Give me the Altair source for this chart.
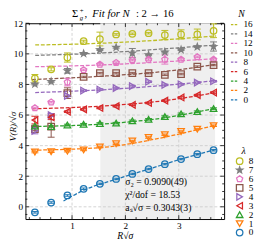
import altair as alt
import pandas as pd

# ---------------- data ----------------
R_SQRT_SIGMA = [0.304, 0.609, 0.913, 1.217, 1.522, 1.826, 2.130, 2.434, 2.739, 3.043, 3.347, 3.652]

LAM_ORDER = ["8", "7", "6", "5", "4", "3", "2", "1", "0"]
V = {
    "8": [8.40, 8.99, 9.76, 10.83, 10.97, 11.27, 11.31, 11.35, 11.23, 11.27, 11.27, 11.51],
    "7": [8.02, 8.19, 8.89, 10.02, 10.27, 10.42, 10.05, 9.93, 10.12, 10.27, 10.46, 10.48],
    "6": [6.46, 6.84, 8.15, 8.95, 9.31, 9.42, 9.59, 9.63, 9.63, 9.63, 9.80, 9.63],
    "5": [5.08, 5.25, 7.43, 8.49, 8.74, 8.74, 8.74, 8.74, 8.63, 8.68, 9.16, 9.27],
    "4": [4.97, 6.00, 7.25, 7.60, 7.67, 7.76, 7.89, 8.18, 7.97, 8.01, 8.12, 8.21],
    "3": [5.67, 5.85, 6.22, 6.37, 6.46, 6.58, 6.67, 6.79, 6.94, 7.15, 7.30, 7.47],
    "2": [5.28, 5.25, 5.35, 5.40, 5.45, 5.47, 5.62, 5.72, 5.90, 6.08, 6.22, 6.42],
    "1": [3.58, 3.60, 3.64, 3.72, 3.91, 4.12, 4.30, 4.53, 4.71, 4.92, 5.08, 5.30],
    "0": [-0.36, 0.28, 0.74, 1.18, 1.50, 1.82, 2.15, 2.47, 2.79, 3.12, 3.44, 3.70],
}
ERR = {
    "8": [0.25, 0.10, 0.30, 0.06, 0.45, 0.05, 0.05, 0.05, 0.30, 0.30, 0.35, 0.45],
    "7": [0.05, 0.05, 0.15, 0.05, 0.05, 0.05, 0.30, 0.05, 0.05, 0.05, 0.05, 0.30],
    "6": [0.05, 0.05, 0.25, 0.05, 0.05, 0.05, 0.05, 0.05, 0.30, 0.05, 0.05, 0.05],
    "5": [0.10, 0.70, 0.35, 0.05, 0.05, 0.05, 0.05, 0.05, 0.05, 0.05, 0.05, 0.05],
    "4": [0.20, 0.10, 0.05, 0.05, 0.05, 0.05, 0.05, 0.05, 0.05, 0.05, 0.05, 0.05],
    "3": [0.25, 0.15, 0.05, 0.05, 0.05, 0.05, 0.05, 0.05, 0.05, 0.05, 0.05, 0.05],
    "2": [0.05, 0.05, 0.05, 0.05, 0.05, 0.05, 0.05, 0.05, 0.05, 0.05, 0.05, 0.05],
    "1": [0.05, 0.05, 0.05, 0.05, 0.05, 0.05, 0.05, 0.05, 0.05, 0.05, 0.05, 0.05],
    "0": [0.05, 0.05, 0.05, 0.05, 0.05, 0.05, 0.05, 0.05, 0.05, 0.05, 0.05, 0.05],
}

N_ORDER = ["16", "14", "12", "10", "8", "6", "4", "2", "0"]
FIT_X = {
    "16": [0.31, 1.52, 2.73, 3.70],
    "14": [0.31, 1.52, 2.73, 3.70],
    "12": [0.31, 1.52, 2.73, 3.70],
    "10": [0.25, 1.52, 2.73, 3.70],
    "8":  [0.31, 1.52, 2.73, 3.70],
    "6":  [0.25, 1.52, 2.73, 3.70],
    "4":  [0.25, 1.52, 2.73, 3.70],
    "2":  [0.25, 1.52, 2.73, 3.70],
    "0":  [0.84, 1.217, 1.826, 2.434, 3.043, 3.70],
}
FIT_V = {
    "16": [10.58, 10.69, 10.92, 11.17],
    "14": [9.90, 10.05, 10.33, 10.58],
    "12": [9.16, 9.27, 9.48, 9.69],
    "10": [8.32, 8.53, 8.85, 9.31],
    "8":  [7.47, 7.64, 7.94, 8.25],
    "6":  [6.41, 6.58, 6.94, 7.47],
    "4":  [5.25, 5.40, 5.82, 6.45],
    "2":  [3.70, 3.87, 4.55, 5.35],
    "0":  [0.38, 1.08, 1.80, 2.46, 3.12, 3.76],
}

FIT_RANGE = [1.53, 3.68]
X_MAJOR = [1, 2, 3]
X_MINOR = [0.2, 0.4, 0.6, 0.8, 1.2, 1.4, 1.6, 1.8, 2.2, 2.4, 2.6, 2.8, 3.2, 3.4, 3.6, 3.8]
Y_MAJOR = [0, 2, 4, 6, 8, 10, 12]
Y_MINOR = [-0.5, 0.5, 1, 1.5, 2.5, 3, 3.5, 4.5, 5, 5.5, 6.5, 7, 7.5, 8.5, 9, 9.5, 10.5, 11, 11.5]

# ---------------- styles ----------------
COL_LAM = {"8": "#bcbd22", "7": "#7f7f7f", "6": "#e377c2", "5": "#8c564b", "4": "#9467bd",
           "3": "#d62728", "2": "#2ca02c", "1": "#ff7f0e", "0": "#1f77b4"}
COL_N = {"16": "#bcbd22", "14": "#7f7f7f", "12": "#e377c2", "10": "#8c564b", "8": "#9467bd",
         "6": "#d62728", "4": "#2ca02c", "2": "#ff7f0e", "0": "#1f77b4"}
STAR = ("M0,-1L0.235,-0.324L0.951,-0.309L0.380,0.124L0.588,0.809L0,0.4L-0.588,0.809"
        "L-0.380,0.124L-0.951,-0.309L-0.235,-0.324Z")
PENT = "M0,-1L0.951,-0.309L0.588,0.809L-0.588,0.809L-0.951,-0.309Z"
SHAPE_LAM = {"8": "circle", "7": STAR, "6": PENT, "5": "square", "4": "triangle-right",
             "3": "triangle-left", "2": "triangle-up", "1": "triangle-down", "0": "circle"}
FILL_LAM = {l: "transparent" for l in LAM_ORDER}
FILL_LAM["7"] = "#7f7f7f"

FONT = "Liberation Serif"
W, H = 205, 202
XDOM = [0.127, 3.85]
YDOM = [-0.8, 12]
CAP = 0.065
MSIZE = 45

rows = []
for lam in LAM_ORDER:
    for x, v, e in zip(R_SQRT_SIGMA, V[lam], ERR[lam]):
        rows.append({"lam": lam, "x": x, "v": v, "lo": v - e, "hi": v + e, "col": COL_LAM[lam]})
pts = pd.DataFrame(rows)

lrows = []
for n in N_ORDER:
    for i, (x, v) in enumerate(zip(FIT_X[n], FIT_V[n])):
        lrows.append({"N": n, "x": x, "v": v, "i": i})
lines = pd.DataFrame(lrows)

xs = alt.Scale(domain=XDOM, nice=False, zero=False)
ys = alt.Scale(domain=YDOM, nice=False, zero=False)
xaxis = alt.Axis(values=X_MAJOR, ticks=False, tickSize=0, domain=False, grid=False,
                 labelFont=FONT, labelFontSize=9.5, labelPadding=2, labelColor="black",
                 title="R√σ", titleFont=FONT, titleFontSize=10, titleFontStyle="italic",
                 titleFontWeight="normal", titlePadding=1, titleColor="black")
yaxis = alt.Axis(values=Y_MAJOR, ticks=False, tickSize=0, domain=False, grid=False,
                 labelFont=FONT, labelFontSize=9.5, labelPadding=3, labelColor="black",
                 title="V(R)/√σ", titleFont=FONT, titleFontSize=9.5, titleFontStyle="italic",
                 titleFontWeight="normal", titleColor="black", titleX=-13, titleY=106,
                 titleAngle=270, titleAlign="center", titleBaseline="middle")
X = alt.X("x:Q", scale=xs, axis=xaxis)
Y = alt.Y("v:Q", scale=ys, axis=yaxis)

band = alt.Chart(pd.DataFrame({"a": [FIT_RANGE[0]], "b": [FIT_RANGE[1]]})).mark_rect(
    color="#efefef").encode(x=alt.X("a:Q", scale=xs, axis=xaxis), x2="b:Q",
                            y=alt.value(0), y2=alt.value(H))

gx = alt.Chart(pd.DataFrame({"x": X_MAJOR})).mark_rule(
    color="#c8c8c8", strokeDash=[3, 2], strokeWidth=0.8).encode(x=X, y=alt.value(0), y2=alt.value(H))
gy = alt.Chart(pd.DataFrame({"v": Y_MAJOR[:-1]})).mark_rule(
    color="#c8c8c8", strokeDash=[3, 2], strokeWidth=0.8).encode(y=Y, x=alt.value(0), x2=alt.value(W))

fit = alt.Chart(lines).mark_line(strokeDash=[4, 1.8], strokeWidth=1.3, interpolate="monotone").encode(
    x=X, y=Y, order="i:O",
    stroke=alt.Stroke("N:N", scale=alt.Scale(domain=N_ORDER, range=[COL_N[n] for n in N_ORDER]),
                      legend=None))

ebar = alt.Chart(pts).mark_rule(strokeWidth=1).encode(
    x=X, y=alt.Y("lo:Q", scale=ys, axis=yaxis), y2="hi:Q",
    stroke=alt.Stroke("col:N", scale=None))
cap_lo = alt.Chart(pts).transform_calculate(xa=f"datum.x - {CAP}", xb=f"datum.x + {CAP}").mark_rule(
    strokeWidth=1).encode(x=alt.X("xa:Q", scale=xs, axis=xaxis), x2="xb:Q",
                          y=alt.Y("lo:Q", scale=ys, axis=yaxis), stroke=alt.Stroke("col:N", scale=None))
cap_hi = alt.Chart(pts).transform_calculate(xa=f"datum.x - {CAP}", xb=f"datum.x + {CAP}").mark_rule(
    strokeWidth=1).encode(x=alt.X("xa:Q", scale=xs, axis=xaxis), x2="xb:Q",
                          y=alt.Y("hi:Q", scale=ys, axis=yaxis), stroke=alt.Stroke("col:N", scale=None))

points = alt.Chart(pts).mark_point(size=MSIZE, strokeWidth=1.3, opacity=1, filled=False).encode(
    x=X, y=Y,
    color=alt.Color("lam:N", scale=alt.Scale(domain=LAM_ORDER, range=[COL_LAM[l] for l in LAM_ORDER]),
                    legend=None),
    shape=alt.Shape("lam:N", scale=alt.Scale(domain=LAM_ORDER, range=[SHAPE_LAM[l] for l in LAM_ORDER]),
                    legend=None),
    fill=alt.Fill("lam:N", scale=alt.Scale(domain=LAM_ORDER, range=[FILL_LAM[l] for l in LAM_ORDER]),
                  legend=None))

tick_style = dict(color="black", strokeWidth=0.8)
tb_maj = alt.Chart(pd.DataFrame({"x": X_MAJOR})).mark_rule(**tick_style).encode(x=X, y=alt.value(H), y2=alt.value(H - 4))
tb_min = alt.Chart(pd.DataFrame({"x": X_MINOR})).mark_rule(**tick_style).encode(x=X, y=alt.value(H), y2=alt.value(H - 2))
tt_maj = alt.Chart(pd.DataFrame({"x": X_MAJOR})).mark_rule(**tick_style).encode(x=X, y=alt.value(0), y2=alt.value(4))
tt_min = alt.Chart(pd.DataFrame({"x": X_MINOR})).mark_rule(**tick_style).encode(x=X, y=alt.value(0), y2=alt.value(2))
tl_maj = alt.Chart(pd.DataFrame({"v": Y_MAJOR})).mark_rule(**tick_style).encode(y=Y, x=alt.value(0), x2=alt.value(4))
tl_min = alt.Chart(pd.DataFrame({"v": Y_MINOR})).mark_rule(**tick_style).encode(y=Y, x=alt.value(0), x2=alt.value(2))
tr_maj = alt.Chart(pd.DataFrame({"v": Y_MAJOR})).mark_rule(**tick_style).encode(y=Y, x=alt.value(W), x2=alt.value(W - 4))
tr_min = alt.Chart(pd.DataFrame({"v": Y_MINOR})).mark_rule(**tick_style).encode(y=Y, x=alt.value(W), x2=alt.value(W - 2))

one = pd.DataFrame({"a": [0]})


def txt(s, x, y, size=10, style="normal", align="left"):
    return alt.Chart(one).mark_text(text=s, font=FONT, fontSize=size, fontStyle=style,
                                    align=align, baseline="middle", color="black").encode(
        x=alt.value(x), y=alt.value(y))


ann = [
    txt("σ₂ = 0.9090(49)", 103, 164),
    txt("χ²/dof = 18.53", 103, 177),
    txt("aₛ√σ = 0.3043(3)", 103, 191),
]
title = [
    txt("Σ", 48, -9, size=11),
    txt("+", 56, -13, size=7),
    txt("g", 56, -5, size=7, style="italic"),
    txt(",", 61, -9, size=11),
    txt("Fit for N", 69, -9, size=11, style="italic"),
    txt(": 2 → 16", 114, -9, size=11),
]

# ---------------- hand-built legends (layout only) ----------------
legend_layers = [txt("N", 223, -9, size=10, style="italic", align="center")]
for i, n in enumerate(N_ORDER):
    yy = 1.3 + i * 9.72
    legend_layers.append(
        alt.Chart(one).mark_rule(color=COL_N[n], strokeWidth=1.3, strokeDash=[2.5, 1.5]).encode(
            x=alt.value(212), x2=alt.value(220), y=alt.value(yy)))
    legend_layers.append(txt(n, 225, yy, size=9.5))

legend_layers.append(txt("λ", 225, 132, size=10, style="italic", align="center"))
for i, lam in enumerate(LAM_ORDER):
    yy = 142.3 + i * 9.2
    legend_layers.append(
        alt.Chart(one).mark_point(shape=SHAPE_LAM[lam], size=MSIZE, strokeWidth=1.3, opacity=1,
                                  stroke=COL_LAM[lam], fill=FILL_LAM[lam]).encode(
            x=alt.value(221), y=alt.value(yy)))
    legend_layers.append(txt(lam, 230.5, yy, size=9.5))

chart = alt.layer(
    band, gx, gy, fit, ebar, cap_lo, cap_hi, points,
    tb_maj, tb_min, tt_maj, tt_min, tl_maj, tl_min, tr_maj, tr_min,
    *ann, *title, *legend_layers
).properties(
    width=W, height=H,
    autosize=alt.AutoSizeParams(type="none"),
    padding={"left": 18, "top": 12, "right": 37, "bottom": 22},
).configure_view(stroke="black", strokeWidth=1)

chart.save("out.html", embed_options={"renderer": "svg", "actions": False})
